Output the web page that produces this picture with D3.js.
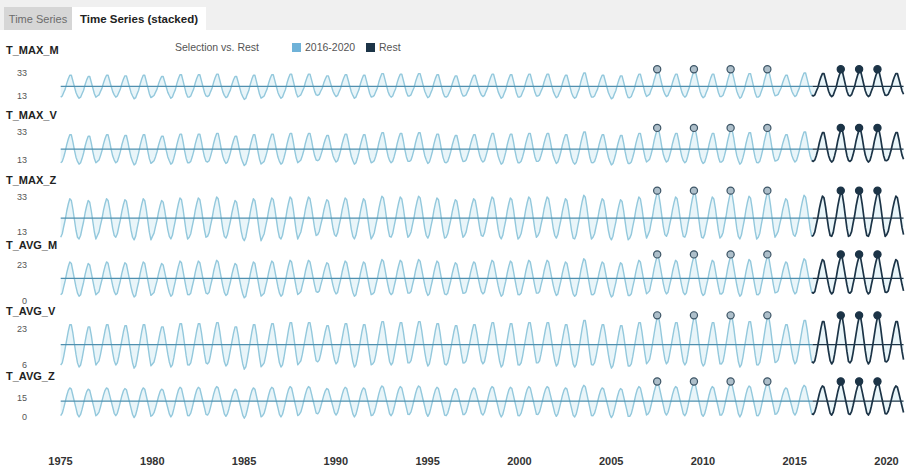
<!DOCTYPE html>
<html>
<head>
<meta charset="utf-8">
<script src="https://cdn.jsdelivr.net/npm/d3@7"></script>
<style>
  body { margin: 0; background: #fff; font-family: "Liberation Sans", Arial, sans-serif; }
</style>
</head>
<body>
<svg id="chart" width="906" height="474"></svg>
<script>
// panel names and the two tick values shown on each y axis
const seriesNames = ['T_MAX_M', 'T_MAX_V', 'T_MAX_Z', 'T_AVG_M', 'T_AVG_V', 'T_AVG_Z'];
const tickHigh = [33, 33, 33, 23, 23, 15];
const tickLow = [13, 13, 13, 0, 6, 0];

// monthly climatology (Jan..Dec)
const climMaxM = [12, 13, 16, 19, 24, 28, 31, 31, 26, 21, 16, 13];
const climMaxV = [11, 12, 15, 19, 24, 28, 31, 31, 26, 20, 15, 12];
const climMaxZ = [10, 12, 16, 20, 25, 29, 32, 31, 26, 20, 14, 10];
const climAvgM = [4, 5, 9, 13, 18, 22, 25, 24, 19, 14, 9, 5];
const climAvgV = [6, 7, 10, 14, 18, 22, 25, 25, 21, 16, 11, 7];
const climAvgZ = [1, 3, 7, 12, 17, 21, 23, 22, 17, 12, 7, 2];

// yearly deviations of the summer peaks and winter troughs, 1975..2020
const years = d3.range(1975, 2021);
const summerDev = [0, -1, 0, -0.5, 0, -1, 0.5, 0.5, 1, -1, 0, 0.5, 1, 1, -0.5, 0.5, 0, 1.5, 1, 1.5,
  0.5, -0.5, 0, 1, 0.5, 1, 1, 0, 2, 0, -0.5, 1, 3.5, 1, 3.5, 1, 3.5, 1.5, 3.5, 0, 2, 1.5, 3.5, 3.5, 3.5, 1.5];
const winterDev = [0, -1, 1, 0, -1.5, 0.5, -1, 0, 0.5, -0.5, -2, 0, -1, 1, 1.5, 0.5, -1, 0.5, 0, 1,
  -0.5, 0, 1, 0.5, -1, 0, 1, -0.5, -1, 0, -1.5, -0.5, 1.5, 0.5, 0, -0.5, 0.5, -1, 0, 1.5, 0.5, 1, 0.5, 1, 0.5, 1.5];

// highlighted summer peaks
const markerYears = [2007, 2009, 2011, 2013, 2017, 2018, 2019];
const selectionStart = 2016;

const climates = [climMaxM, climMaxV, climMaxZ, climAvgM, climAvgV, climAvgZ];

// layout: label y, y of high tick, y of low tick
const panelLayout = [
  { label: 50, hi: 73, lo: 96 },
  { label: 115, hi: 132, lo: 160 },
  { label: 180, hi: 197, lo: 232 },
  { label: 245, hi: 265, lo: 301 },
  { label: 311, hi: 329, lo: 365 },
  { label: 376, hi: 398, lo: 417 }
];

const colLight = '#93c8dc',
  colMean = '#4f8fae',
  colDark = '#1c3447',
  colFill = '#e4f2f7';

const svg = d3.select('#chart');

// tab strip
svg.append('rect').attr('x', 0).attr('y', 0).attr('width', 906).attr('height', 30).attr('fill', '#f0f0f0');
svg.append('rect').attr('x', 4).attr('y', 7).attr('width', 68).attr('height', 23).attr('fill', '#d6d6d6');
svg.append('rect').attr('x', 72).attr('y', 7).attr('width', 134).attr('height', 23).attr('fill', '#fff');
svg.append('text').attr('x', 38).attr('y', 23).attr('text-anchor', 'middle')
  .attr('font-size', 11).attr('fill', '#6b6b6b').text('Time Series');
svg.append('text').attr('x', 139).attr('y', 23).attr('text-anchor', 'middle')
  .attr('font-size', 11.5).attr('font-weight', 'bold').attr('fill', '#222').text('Time Series (stacked)');

// legend
const legend = svg.append('g').attr('font-size', 10.5).attr('fill', '#555');
legend.append('text').attr('x', 175).attr('y', 51).text('Selection vs. Rest');
legend.append('rect').attr('x', 292).attr('y', 43).attr('width', 9).attr('height', 9).attr('fill', '#6fb2d8');
legend.append('text').attr('x', 305).attr('y', 51).text('2016-2020');
legend.append('rect').attr('x', 366).attr('y', 43).attr('width', 9).attr('height', 9).attr('fill', colDark);
legend.append('text').attr('x', 379).attr('y', 51).text('Rest');

const x = d3.scaleTime()
  .domain([new Date(1975, 0, 1), new Date(2020, 0, 1)])
  .range([60, 886]);

const splitDate = new Date(selectionStart, 0, 1);

seriesNames.forEach((name, i) => {
  const clim = climates[i];
  const cMin = d3.min(clim), cMax = d3.max(clim);
  const data = [];
  years.forEach((yr, yi) => {
    clim.forEach((c, m) => {
      const w = (c - cMin) / (cMax - cMin);
      data.push({ date: new Date(yr, m, 15), year: yr, month: m, value: c + w * summerDev[yi] + (1 - w) * winterDev[yi] });
    });
  });
  const mean = d3.mean(data, d => d.value);

  const L = panelLayout[i];
  const y = d3.scaleLinear().domain([tickLow[i], tickHigh[i]]).range([L.lo, L.hi]);

  const g = svg.append('g');

  g.append('text').attr('x', 6).attr('y', L.label + 4)
    .attr('font-size', 11).attr('font-weight', 'bold').attr('fill', '#222').text(name);

  g.append('g')
    .attr('transform', 'translate(29,0)')
    .call(d3.axisLeft(y).tickValues([tickLow[i], tickHigh[i]]).tickSize(0).tickPadding(2))
    .call(g => g.select('.domain').remove())
    .call(g => g.selectAll('text').attr('font-size', 9).attr('fill', '#555').attr('font-family', 'Liberation Sans, Arial'));

  const area = d3.area().x(d => x(d.date)).y0(y(mean)).y1(d => y(d.value));
  const line = d3.line().x(d => x(d.date)).y(d => y(d.value));

  const rest = data.filter(d => d.date < splitDate);
  const sel = data.filter(d => d.date >= new Date(selectionStart - 1, 11, 1));

  g.append('path').datum(data).attr('d', area).attr('fill', colFill).attr('opacity', 0.8);

  g.append('path').datum(rest).attr('d', line).attr('fill', 'none').attr('stroke', colLight)
    .attr('stroke-width', 1.4).attr('stroke-linejoin', 'round');
  g.append('path').datum(sel).attr('d', line).attr('fill', 'none').attr('stroke', colDark)
    .attr('stroke-width', 1.7).attr('stroke-linejoin', 'round');

  g.append('line').attr('x1', x(data[0].date)).attr('x2', x(splitDate))
    .attr('y1', y(mean)).attr('y2', y(mean)).attr('stroke', colMean).attr('stroke-width', 1.3);
  g.append('line').attr('x1', x(splitDate)).attr('x2', x(data[data.length - 1].date))
    .attr('y1', y(mean)).attr('y2', y(mean)).attr('stroke', colDark).attr('stroke-width', 1.3);

  const peaks = data.filter(d => markerYears.includes(d.year) && d.month === 6);
  g.selectAll('circle').data(peaks).enter().append('circle')
    .attr('cx', d => x(d.date)).attr('cy', d => y(d.value) - 2).attr('r', 3.6)
    .attr('fill', d => d.year >= selectionStart ? colDark : '#aebfca')
    .attr('stroke', d => d.year >= selectionStart ? colDark : '#3d5566')
    .attr('stroke-width', 1.2);
});

svg.append('g')
  .attr('transform', 'translate(0,453)')
  .call(d3.axisBottom(x)
    .tickValues(d3.range(1975, 2021, 5).map(yr => new Date(yr, 0, 1)))
    .tickFormat(d3.timeFormat('%Y'))
    .tickSize(0).tickPadding(4))
  .call(g => g.select('.domain').remove())
  .call(g => g.selectAll('text').attr('font-size', 11).attr('font-weight', 'bold').attr('fill', '#333').attr('font-family', 'Liberation Sans, Arial'));
</script>
</body>
</html>
